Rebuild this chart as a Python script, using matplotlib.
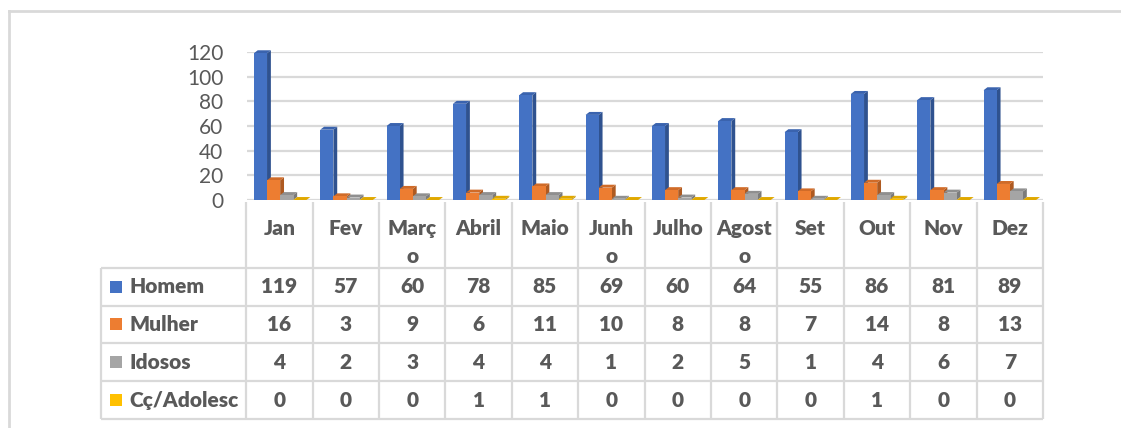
import numpy as np
import matplotlib
matplotlib.use("Agg")
import matplotlib.pyplot as plt
from matplotlib.lines import Line2D
from matplotlib.patches import Rectangle

# --- data -------------------------------------------------------------
months = ["Jan", "Fev", "Março", "Abril", "Maio", "Junho",
          "Julho", "Agosto", "Set", "Out", "Nov", "Dez"]
# header labels as wrapped in the picture
month_labels = ["Jan", "Fev", "Març\no", "Abril", "Maio", "Junh\no",
                "Julho", "Agost\no", "Set", "Out", "Nov", "Dez"]
series = ["Homem", "Mulher", "Idosos", "Cç/Adolesc"]
homem = [119, 57, 60, 78, 85, 69, 60, 64, 55, 86, 81, 89]
mulher = [16, 3, 9, 6, 11, 10, 8, 8, 7, 14, 8, 13]
idosos = [4, 2, 3, 4, 4, 1, 2, 5, 1, 4, 6, 7]
adolesc = [0, 0, 0, 1, 1, 0, 0, 0, 0, 1, 0, 0]
values = [homem, mulher, idosos, adolesc]

# --- style ------------------------------------------------------------
FRONT = ["#4472C4", "#ED7D31", "#A5A5A5", "#FFC000"]
SIDE = ["#2F528F", "#AE5A21", "#7B7B7B", "#BF9000"]
TOP = ["#3A63AE", "#D06B28", "#8F8F8F", "#E0A800"]
TXT = "#595959"
LINE = "#D9D9D9"
FS = 15
BOLD = 800
plt.rcParams["font.family"] = ["Lato", "DejaVu Sans"]

W, H = 1121, 428
fig = plt.figure(figsize=(W / 100, H / 100), dpi=100)
fig.patch.set_facecolor("white")

# outer frame (top and left edges visible)
fig.add_artist(Line2D([9 / W, 1], [1 - 11 / H] * 2, transform=fig.transFigure,
                      color=LINE, lw=2))
fig.add_artist(Line2D([9 / W, 9 / W], [0, 1 - 11 / H], transform=fig.transFigure,
                      color=LINE, lw=2))

# --- bar chart --------------------------------------------------------
ax = fig.add_axes([247 / W, (H - 200) / H, 796 / W, 148 / H])
ax.set_xlim(-0.5, 11.5)
ax.set_ylim(0, 120)
ax.set_yticks(range(0, 121, 20))
ax.grid(axis="y", color=LINE, lw=1.6)
ax.set_axisbelow(True)
for sp in ax.spines.values():
    sp.set_visible(False)
ax.set_xticks([])
ax.tick_params(axis="y", length=0, pad=17, labelsize=15, labelcolor=TXT)

x = np.arange(len(months))
w = 0.198
dx, dy = 0.058, 2.4
for k, vals in enumerate(values):
    xs = x + (k - 1.5) * w
    ax.bar(xs, vals, w, color=FRONT[k], zorder=3 + 2 * k)
    for xc, v in zip(xs, vals):
        x1 = xc + w / 2
        x0 = xc - w / 2
        ax.fill([x1, x1 + dx, x1 + dx, x1], [0, dy, v + dy, v],
                color=SIDE[k], zorder=2.9 + 2 * k, clip_on=False, lw=0)
        ax.fill([x0, x0 + dx, x1 + dx, x1], [v, v + dy, v + dy, v],
                color=TOP[k], zorder=2.9 + 2 * k, clip_on=False, lw=0)

# --- data table -------------------------------------------------------
LW = 145 / 66.33          # label column width, in category units
HEAD = 66 / 38            # header row height, in row units
tax = fig.add_axes([101 / W, (H - 419) / H, 942 / W, 217 / H])
tax.set_xlim(-0.5 - LW, 11.5)
tax.set_ylim(HEAD + len(series), 0)
tax.axis("off")

left = -0.5 - LW
for i in range(len(months) + 1):
    tax.plot([i - 0.5, i - 0.5], [0, HEAD + len(series)], color=LINE, lw=1.6,
             solid_capstyle="butt", clip_on=False)
tax.plot([left, left], [HEAD, HEAD + len(series)], color=LINE, lw=1.6,
         solid_capstyle="butt", clip_on=False)
for r in range(len(series) + 1):
    tax.plot([left, 11.5], [HEAD + r, HEAD + r], color=LINE, lw=1.6,
             solid_capstyle="butt", clip_on=False)

# month headers
line_h = 28 / 38
for i, lab in enumerate(month_labels):
    for j, part in enumerate(lab.split("\n")):
        tax.text(i, 0.7 + j * line_h, part, ha="center", va="center",
                 fontsize=FS, fontweight=BOLD, color=TXT)

# series rows
key = 12 / 66.33
for r, (name, vals) in enumerate(zip(series, values)):
    yc = HEAD + r + 0.5
    tax.add_patch(Rectangle((left + 9 / 66.33, yc - 0.16), key, 0.32,
                            color=FRONT[r], lw=0))
    tax.text(left + 28 / 66.33, yc, name, ha="left", va="center",
             fontsize=FS, fontweight=BOLD, color=TXT)
    for i, v in enumerate(vals):
        tax.text(i, yc, str(v), ha="center", va="center",
                 fontsize=FS, fontweight=BOLD, color=TXT)

fig.savefig("out.png", dpi=100, facecolor="white")
